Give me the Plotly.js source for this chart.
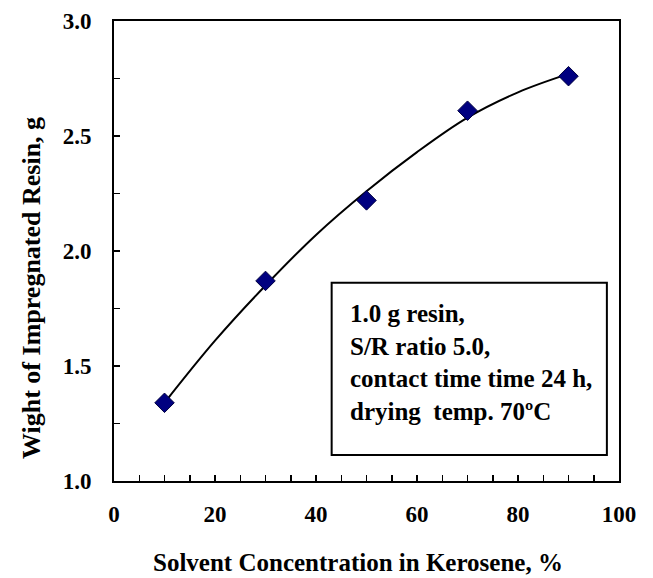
<!DOCTYPE html>
<html>
<head>
<meta charset="utf-8">
<script src="https://cdn.plot.ly/plotly-3.0.1.min.js"></script>
<style>
  body { margin: 0; background: #fff; }
  #chart { width: 653px; height: 578px; }
</style>
</head>
<body>
<div id="chart"></div>
<script>
// measured points (diamonds)
const concentration = [10, 30, 50, 70, 90];
const resinWeight = [1.34, 1.87, 2.22, 2.61, 2.76];

// fitted curve
const fitX = [10, 20, 30, 40, 50, 60, 70, 80, 90];
const fitY = [1.34, 1.61, 1.85, 2.07, 2.26, 2.43, 2.58, 2.69, 2.77];

const noteLines = [
  "1.0 g resin,",
  "S/R ratio 5.0,",
  "contact time time 24 h,",
  "drying  temp. 70ºC"
];

const serif = "Liberation Serif";

const fitTrace = {
  x: fitX,
  y: fitY,
  type: "scatter",
  mode: "lines",
  line: { color: "#000", width: 2, shape: "spline" },
  hoverinfo: "skip",
};

const pointTrace = {
  x: concentration,
  y: resinWeight,
  type: "scatter",
  mode: "markers",
  marker: {
    symbol: "diamond",
    size: 15,
    color: "#000080",
    line: { color: "#000040", width: 1 },
  },
};

const axisBase = {
  showgrid: false,
  zeroline: false,
  showline: true,
  linecolor: "#000",
  linewidth: 2,
  mirror: true,
  ticks: "inside",
  ticklen: 6,
  tickwidth: 1.5,
  tickcolor: "#000",
  tickfont: { family: serif, size: 23, color: "#000", weight: "bold" },
};

const layout = {
  width: 653,
  height: 578,
  margin: { l: 114, r: 34, t: 21, b: 97 },
  paper_bgcolor: "#fff",
  plot_bgcolor: "#fff",
  showlegend: false,
  font: { family: serif, color: "#000", weight: "bold" },
  xaxis: Object.assign({}, axisBase, {
    range: [0, 100],
    tick0: 0,
    dtick: 20,
    ticklabelstandoff: 11,
    minor: { dtick: 5, ticks: "inside", ticklen: 6, tickwidth: 1.5, tickcolor: "#000" },
  }),
  yaxis: Object.assign({}, axisBase, {
    range: [1, 3],
    tick0: 1,
    dtick: 0.5,
    tickformat: ".1f",
    ticklabelstandoff: 16,
    minor: { dtick: 0.25, ticks: "inside", ticklen: 6, tickwidth: 1.5, tickcolor: "#000" },
  }),
  shapes: [
    {
      type: "rect",
      xref: "paper",
      yref: "paper",
      x0: 0.431,
      x1: 0.976,
      y0: 0.0565,
      y1: 0.431,
      line: { color: "#000", width: 2 },
      fillcolor: "#fff",
      layer: "below",
    },
  ],
  annotations: [
    {
      xref: "paper",
      yref: "paper",
      x: 0.463,
      y: (481 - 362) / 460,
      xanchor: "left",
      yanchor: "middle",
      align: "left",
      showarrow: false,
      text: noteLines.join("<br>"),
      font: { family: serif, size: 25, color: "#000", weight: "bold" },
    },
    {
      // x axis title
      xref: "paper",
      yref: "paper",
      x: (358 - 114) / 505,
      y: (481 - 562) / 460,
      xanchor: "center",
      yanchor: "middle",
      showarrow: false,
      text: "Solvent Concentration in Kerosene, %",
      font: { family: serif, size: 25, color: "#000", weight: "bold" },
    },
    {
      // y axis title
      xref: "paper",
      yref: "paper",
      x: (31 - 114) / 505,
      y: (481 - 288) / 460,
      xanchor: "center",
      yanchor: "middle",
      textangle: -90,
      showarrow: false,
      text: "Wight of Impregnated Resin, g",
      font: { family: serif, size: 26, color: "#000", weight: "bold" },
    },
  ],
};

Plotly.newPlot("chart", [fitTrace, pointTrace], layout, {
  displayModeBar: false,
  staticPlot: true,
});
</script>
</body>
</html>
